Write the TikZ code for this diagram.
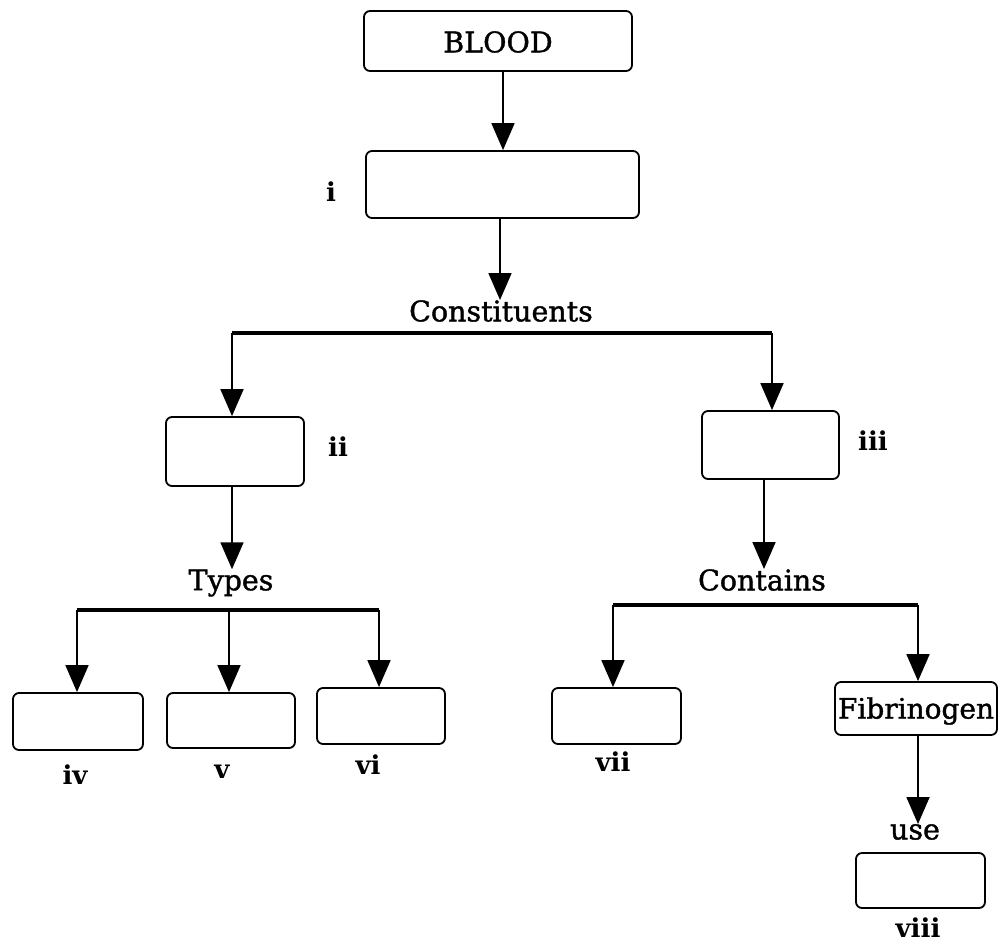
\documentclass[tikz,border=0pt]{standalone}
\usepackage{fontspec}
\setmainfont{DejaVu Serif}
\newfontfamily\medfont[FakeBold=1.3]{DejaVu Serif}
\usetikzlibrary{arrows.meta}
\begin{document}
\begin{tikzpicture}[x=1pt,y=-1pt,
  box/.style={draw,line width=1.8pt,rounded corners=6pt,inner sep=0pt},
  txt/.style={inner sep=0pt,font=\medfont\fontsize{28.5}{32}\selectfont},
  lab/.style={inner sep=0pt,font=\fontsize{26}{28}\selectfont\bfseries},
  arr/.style={line width=1.8pt,-{Triangle[width=23pt,length=27pt]}},
  bar/.style={line width=3.5pt}]
\useasboundingbox (0,0) rectangle (998,943);
% boxes
\node[box,minimum width=268pt,minimum height=60pt] (blood) at (498,41) {};
\node[txt] (bloodtxt) at (498,42) {BLOOD};
\node[box,minimum width=273pt,minimum height=67pt] (boxi) at (502.5,184.5) {};
\node[box,minimum width=138pt,minimum height=69pt] (boxii) at (235,451.5) {};
\node[box,minimum width=137pt,minimum height=68pt] (boxiii) at (770.5,445) {};
\node[box,minimum width=130pt,minimum height=57pt] (boxiv) at (78,721.5) {};
\node[box,minimum width=128pt,minimum height=55pt] (boxv) at (231,720.5) {};
\node[box,minimum width=128pt,minimum height=56pt] (boxvi) at (381,716) {};
\node[box,minimum width=129pt,minimum height=56pt] (boxvii) at (616.5,716) {};
\node[box,minimum width=162pt,minimum height=53pt] (fib) at (916,708.5) {};
\node[txt,font=\medfont\fontsize{28}{32}\selectfont] (fibtxt) at (916,711) {Fibrinogen};
\node[box,minimum width=129pt,minimum height=55pt] (boxviii) at (920.5,880.5) {};
% texts
\node[txt] (const) at (501,311) {Constituents};
\node[txt] (types) at (231,583) {Types};
\node[txt] (contains) at (762,580) {Contains};
\node[txt] (use) at (915,832) {use};
% labels
\node[lab] (li) at (331,192) {i};
\node[lab] (lii) at (338,447) {ii};
\node[lab] (liii) at (873,441) {iii};
\node[lab] (liv) at (75,775) {iv};
\node[lab] (lv) at (222,772) {v};
\node[lab] (lvi) at (368,765) {vi};
\node[lab] (lvii) at (613,762) {vii};
\node[lab] (lviii) at (918,928) {viii};
% bar coordinates
\coordinate (cl) at (232,333);
\coordinate (cr) at (772,333);
\coordinate (tl) at (77,610);
\coordinate (tm) at (229,610);
\coordinate (tr) at (379,610);
\coordinate (kl) at (613,605);
\coordinate (kr) at (918,605);
% connectors
\draw[arr] (blood.south -| 503,0) -- (boxi.north -| 503,0);
\draw[arr] (boxi.south -| 500,0) -- (const.north -| 500,0);
\draw[bar] (cl) -- (cr);
\draw[arr] (cl) -- (cl |- boxii.north);
\draw[arr] (cr) -- (cr |- boxiii.north);
\draw[arr] (boxii.south -| cl) -- (cl |- types.north);
\draw[arr] (boxiii.south -| 764,0) -- (contains.north -| 764,0);
\draw[bar] (tl) -- (tr);
\draw[arr] (tl) -- (tl |- boxiv.north);
\draw[arr] (tm) -- (tm |- boxv.north);
\draw[arr] (tr) -- (tr |- boxvi.north);
\draw[bar] (kl) -- (kr);
\draw[arr] (kl) -- (kl |- boxvii.north);
\draw[arr] (kr) -- (kr |- fib.north);
\draw[arr] (fib.south -| kr) -- (kr |- use.north);
\end{tikzpicture}
\end{document}
